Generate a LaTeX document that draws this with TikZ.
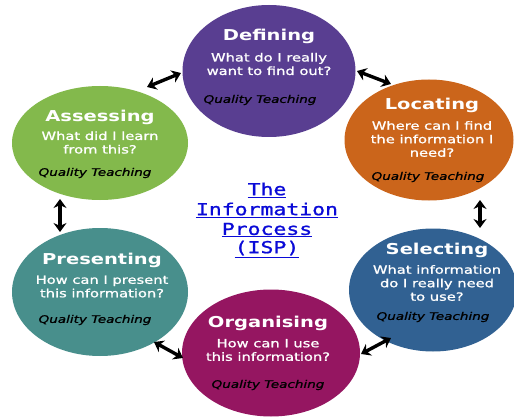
\documentclass[tikz,border=0pt]{standalone}
\usepackage{fontspec}
\usetikzlibrary{shapes.geometric,arrows.meta}
\newfontfamily\tfont[FakeStretch=1.3]{DejaVu Sans}
\newfontfamily\bfont[FakeStretch=1.3,FakeBold=1.2]{DejaVu Sans}
\newfontfamily\mfont[FakeStretch=1.3,FakeBold=1.2]{DejaVu Sans Mono}
\definecolor{cdef}{RGB}{89,62,145}
\definecolor{cloc}{RGB}{203,101,27}
\definecolor{cass}{RGB}{131,185,76}
\definecolor{csel}{RGB}{49,97,146}
\definecolor{cpre}{RGB}{72,143,140}
\definecolor{corg}{RGB}{149,22,97}
\definecolor{clink}{RGB}{10,10,215}
\tikzset{
  blob/.style={ellipse, inner sep=0pt, draw=none},
  ttl/.style={text=white, font=\tfont\bfseries\fontsize{15}{18}\selectfont, inner sep=0pt},
  bdy/.style={text=white, align=center, font=\bfont\fontsize{11.3}{13.5}\selectfont, inner sep=0pt},
  qt/.style={text=black, font=\bfont\itshape\fontsize{10.4}{12}\selectfont, inner sep=0pt},
  lnk/.style={text=clink, font=\mfont\fontsize{16.5}{20}\selectfont, inner sep=0pt},
  dbl/.style={line width=3.4pt, {Stealth[length=9pt,width=13pt]}-{Stealth[length=9pt,width=13pt]}}
}
\begin{document}
\begin{tikzpicture}[x=1pt,y=-1pt]
\useasboundingbox (0,0) rectangle (514,417);
\fill[white] (0,0) rectangle (514,417);
% circles
\node[blob, fill=cdef, minimum width=173pt, minimum height=132pt] (def) at (269,71) {};
\node[blob, fill=cloc, minimum width=169pt, minimum height=121pt] (loc) at (429,140) {};
\node[blob, fill=cass, minimum width=176pt, minimum height=114pt] (ass) at (100,143) {};
\node[blob, fill=csel, minimum width=168pt, minimum height=123pt] (sel) at (433,290) {};
\node[blob, fill=cpre, minimum width=176pt, minimum height=128pt] (pre) at (100,292) {};
\node[blob, fill=corg, minimum width=178pt, minimum height=127pt] (org) at (271,353) {};
% Defining
\node[ttl] (defT) at (269,36) {Defining};
\node[bdy] (defB) at (269,64) {What do I really\\want to find out?};
\node[qt] (defQ) at (260,100) {Quality Teaching};
% Locating
\node[ttl] (locT) at (432,105) {Locating};
\node[bdy] (locB) at (432,139) {Where can I find\\the information I\\need?};
\node[qt] (locQ) at (428,177) {Quality Teaching};
% Assessing
\node[ttl] (assT) at (100,117) {Assessing};
\node[bdy] (assB) at (100,142.5) {What did I learn\\from this?};
\node[qt] (assQ) at (95,173) {Quality Teaching};
% Selecting
\node[ttl] (selT) at (437,250) {Selecting};
\node[bdy] (selB) at (437,283) {What information\\do I really need\\to use?};
\node[qt] (selQ) at (433,317) {Quality Teaching};
% Presenting
\node[ttl] (preT) at (102,260) {Presenting};
\node[bdy] (preB) at (102,286.5) {How can I present\\this information?};
\node[qt] (preQ) at (95,320) {Quality Teaching};
% Organising
\node[ttl] (orgT) at (268,323) {Organising};
\node[bdy] (orgB) at (268,350) {How can I use\\this information?};
\node[qt] (orgQ) at (268,385) {Quality Teaching};
% centre link text
\node[lnk] (l1) at (267,190) {\underline{The}};
\node[lnk] (l2) at (267,210) {\underline{Information}};
\node[lnk] (l3) at (267,230) {\underline{Process}};
\node[lnk] (l4) at (267,249) {\underline{(ISP)}};
% arrow end points
\coordinate (a1s) at (147,87);  \coordinate (a1e) at (181,73);
\coordinate (a2s) at (357,71);  \coordinate (a2e) at (391,84);
\coordinate (a3s) at (480,200); \coordinate (a3e) at (480,228);
\coordinate (a4s) at (60,199);  \coordinate (a4e) at (60,232);
\coordinate (a5s) at (154,342); \coordinate (a5e) at (183,358);
\coordinate (a6s) at (361,354); \coordinate (a6e) at (391,338);
\draw[dbl] (a1s) -- (a1e);
\draw[dbl] (a2s) -- (a2e);
\draw[dbl] (a3s) -- (a3e);
\draw[dbl] (a4s) -- (a4e);
\draw[dbl] (a5s) -- (a5e);
\draw[dbl] (a6s) -- (a6e);
\end{tikzpicture}
\end{document}
